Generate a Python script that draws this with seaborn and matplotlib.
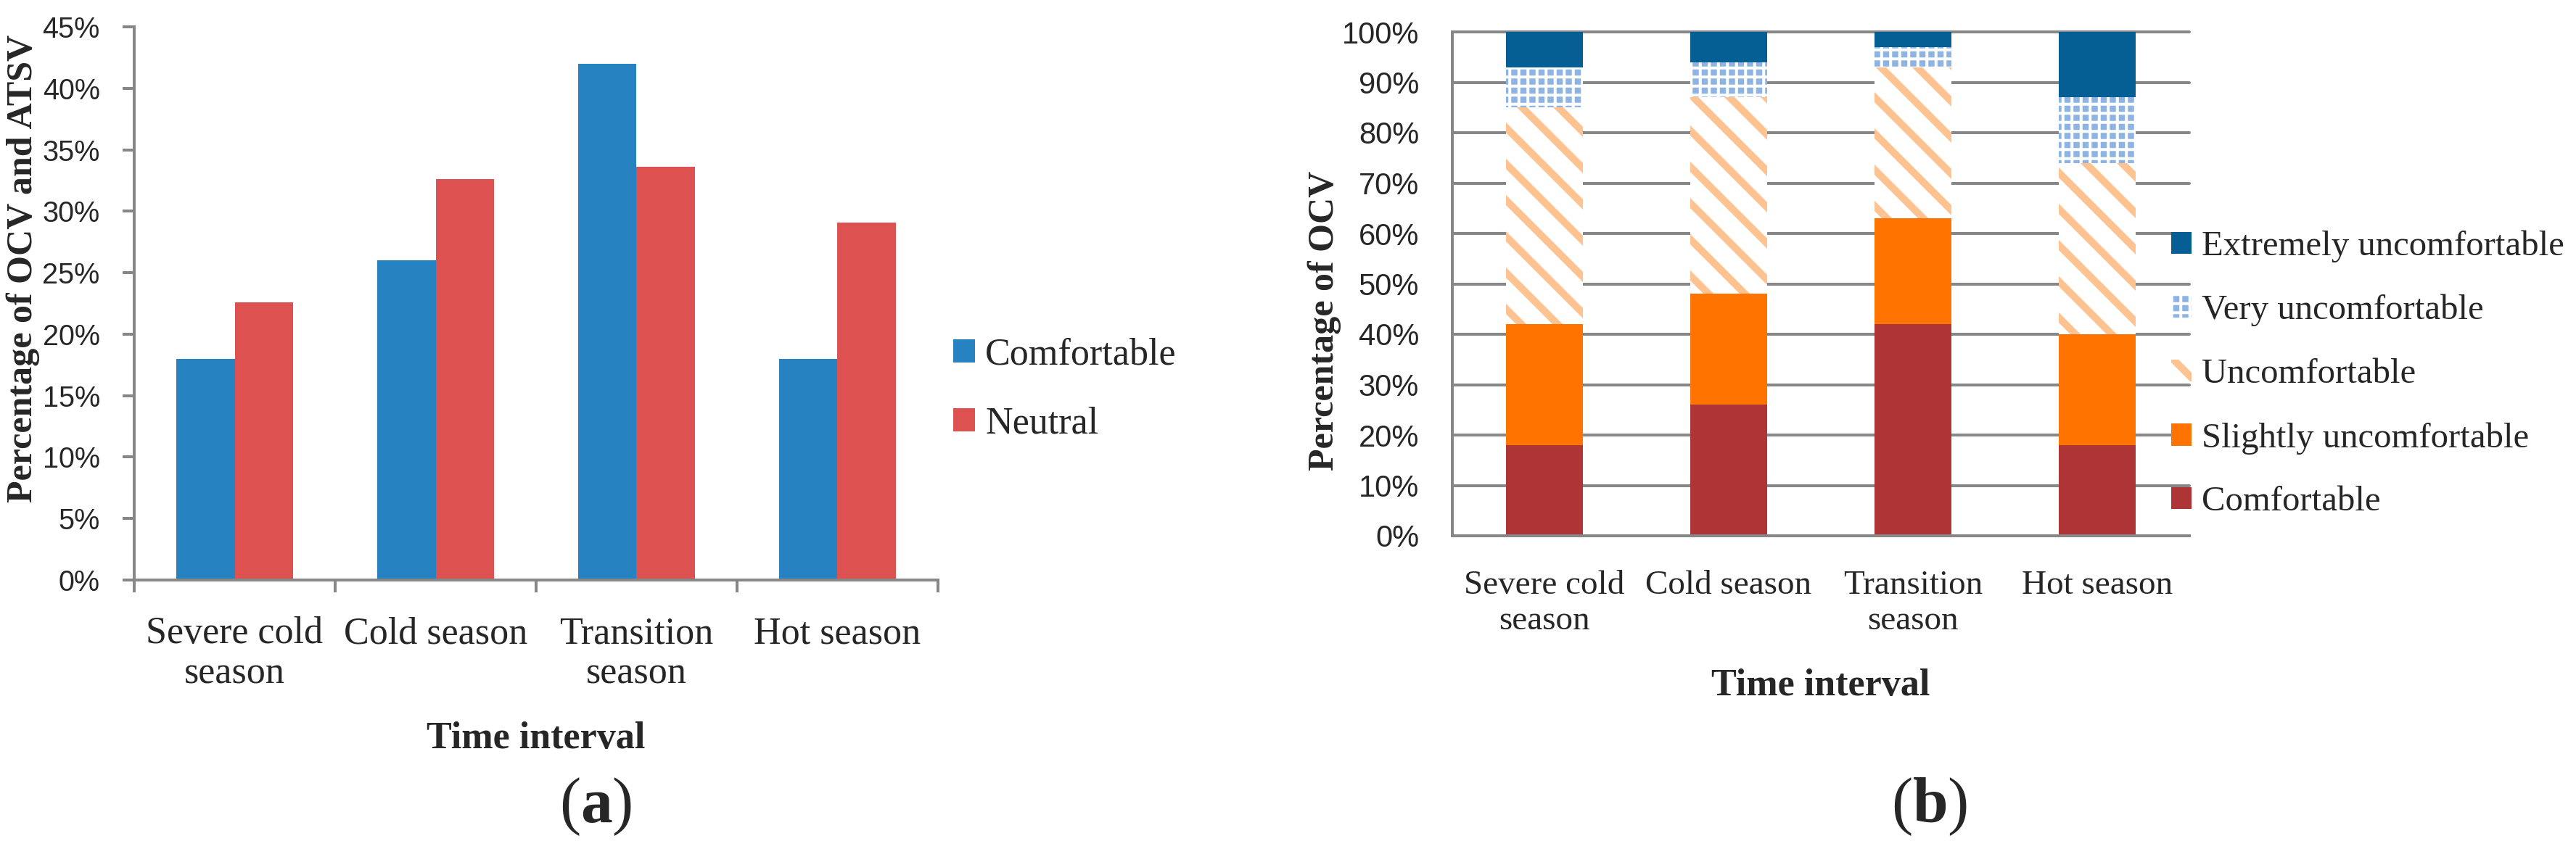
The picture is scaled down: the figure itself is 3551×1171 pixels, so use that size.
import matplotlib
matplotlib.use("Agg")
import matplotlib.pyplot as plt
import seaborn as sns
import pandas as pd
from matplotlib.patches import Patch
from matplotlib.ticker import FixedLocator, PercentFormatter

seasons = ["Severe cold\nseason", "Cold season", "Transition\nseason", "Hot season"]

# (a) share of comfortable OCV and neutral ATSV votes, %
ocv_comfortable = [18.0, 26.0, 42.0, 18.0]
atsv_neutral = [22.6, 32.6, 33.6, 29.1]

# (b) OCV split per season, %, listed bottom to top of the stack
comfortable = [18, 26, 42, 18]
slightly = [24, 22, 21, 22]
uncomfortable = [43, 39, 30, 34]
very = [8, 7, 4, 13]
extremely = [7, 6, 3, 13]

GREY = "#878787"
DPI = 300
PX = 72 / DPI  # points per pixel

sns.set_theme(style="white")
plt.rcParams["font.family"] = ["Liberation Serif", "DejaVu Serif"]
plt.rcParams["mathtext.fontset"] = "custom"
plt.rcParams["mathtext.rm"] = "Liberation Serif"
plt.rcParams["mathtext.bf"] = "Liberation Serif:bold"
plt.rcParams["hatch.linewidth"] = 10 * PX

W, H = 3551, 1171
fig = plt.figure(figsize=(W / DPI, H / DPI), dpi=DPI)
fig.patch.set_facecolor("white")


def box(x0, x1, ytop, ybot):
    return [x0 / W, 1 - ybot / H, (x1 - x0) / W, (ybot - ytop) / H]


def thin_checks(patches):
    # thinner white lines for the checked pattern
    for p in patches:
        if p.get_hatch() == "++++" and hasattr(p, "set_hatch_linewidth"):
            p.set_hatch_linewidth(4 * PX)


# ---------- (a) grouped bars ----------
ax_a = fig.add_axes(box(185, 1293, 37, 800))
df_a = pd.DataFrame({
    "season": seasons * 2,
    "vote": ["Comfortable"] * 4 + ["Neutral"] * 4,
    "pct": ocv_comfortable + atsv_neutral,
})
colors_a = {"Comfortable": "#2682C1", "Neutral": "#DE5151"}
sns.barplot(data=df_a, x="season", y="pct", hue="vote", palette=colors_a,
            width=0.578, saturation=1, errorbar=None, linewidth=0,
            legend=False, ax=ax_a)
ax_a.set_xlim(-0.5, 3.5)
ax_a.set_ylim(0, 45)
ax_a.yaxis.set_major_locator(FixedLocator(range(0, 46, 5)))
ax_a.yaxis.set_major_formatter(PercentFormatter(decimals=0))
ax_a.xaxis.set_minor_locator(FixedLocator([-0.5, 0.5, 1.5, 2.5, 3.5]))
ax_a.set_xlabel("")
ax_a.set_ylabel("")
for side in ["top", "right"]:
    ax_a.spines[side].set_visible(False)
for side in ["left", "bottom"]:
    ax_a.spines[side].set_color(GREY)
    ax_a.spines[side].set_linewidth(4 * PX)
ax_a.tick_params(axis="y", which="major", direction="out", length=16 * PX,
                 width=4 * PX, color=GREY, pad=7.5, labelsize=9.5,
                 labelfontfamily="Liberation Sans", left=True)
ax_a.tick_params(axis="x", which="major", length=0, pad=12,
                 labelsize=12.5, bottom=True)
ax_a.tick_params(axis="x", which="minor", direction="out", length=17 * PX,
                 width=4 * PX, color=GREY, bottom=True)

handles_a = [Patch(facecolor=colors_a[k], linewidth=0) for k in colors_a]
fig.legend(handles_a, list(colors_a), loc="center left",
           bbox_to_anchor=(1314 / W, 1 - 537 / H), frameon=False,
           fontsize=12.5, borderpad=0, borderaxespad=0,
           handlelength=0.58, handleheight=0.58, handletextpad=0.27,
           labelspacing=0.9)

fig.text(739 / W, 1 - 1032 / H, "Time interval", ha="center", va="baseline",
         fontsize=12.5, fontweight="bold")
fig.text(32 / W, 1 - 370 / H, "Percentage of OCV and ATSV", rotation=90,
         ha="center", va="center", fontsize=12, fontweight="bold")
fig.text(821 / W, 1 - 1113 / H, r"($\mathbf{a}$)", ha="center", va="center",
         fontsize=21)

# ---------- (b) stacked bars ----------
ax_b = fig.add_axes(box(2002, 3018, 44, 739))
ax_b.set_axisbelow(True)

layers = [
    ("Comfortable", comfortable, dict(color="#AE3435")),
    ("Slightly uncomfortable", slightly, dict(color="#FF7300")),
    ("Uncomfortable", uncomfortable,
     dict(color="white", edgecolor="#FFC392", hatch="\\\\")),
    ("Very uncomfortable", very,
     dict(color="#8DB4E2", edgecolor="white", hatch="++++")),
    ("Extremely uncomfortable", extremely, dict(color="#065F94")),
]

# cumulative tops, then draw from the tallest down so each layer sits on top
tops = []
running = [0] * len(seasons)
for name, vals, style in layers:
    running = [r + v for r, v in zip(running, vals)]
    tops.append(running)

for (name, vals, style), top in reversed(list(zip(layers, tops))):
    kw = dict(style)
    kw.setdefault("edgecolor", kw["color"])
    sns.barplot(x=seasons, y=top, width=0.417, saturation=1, errorbar=None,
                linewidth=0, ax=ax_b, **kw)
thin_checks(ax_b.patches)

ax_b.set_xlim(-0.5, 3.5)
ax_b.set_ylim(0, 100)
ax_b.yaxis.set_major_locator(FixedLocator(range(0, 101, 10)))
ax_b.yaxis.set_major_formatter(PercentFormatter(decimals=0))
ax_b.grid(axis="y", color=GREY, linewidth=4 * PX)
for gl in ax_b.get_ygridlines():
    gl.set_clip_on(False)
ax_b.set_xlabel("")
ax_b.set_ylabel("")
for side in ["top", "right"]:
    ax_b.spines[side].set_visible(False)
for side in ["left", "bottom"]:
    ax_b.spines[side].set_color(GREY)
    ax_b.spines[side].set_linewidth(4 * PX)
ax_b.tick_params(axis="y", length=0, pad=11, labelsize=10,
                 labelfontfamily="Liberation Sans")
ax_b.tick_params(axis="x", length=0, pad=11.5, labelsize=11.3)

handles_b = []
for name, vals, style in reversed(layers):
    handles_b.append(Patch(facecolor=style["color"],
                           edgecolor=style.get("edgecolor", style["color"]),
                           hatch=style.get("hatch"), linewidth=0))
leg_b = fig.legend(handles_b, [l[0] for l in reversed(layers)],
                   loc="center left", bbox_to_anchor=(2993 / W, 1 - 516 / H),
                   frameon=False, fontsize=11.7, borderpad=0, borderaxespad=0,
                   handlelength=0.58, handleheight=0.58, handletextpad=0.29,
                   labelspacing=0.9)
thin_checks(leg_b.get_patches())

fig.text(2510 / W, 1 - 959 / H, "Time interval", ha="center", va="baseline",
         fontsize=12.5, fontweight="bold")
fig.text(1826 / W, 1 - 442 / H, "Percentage of OCV", rotation=90,
         ha="center", va="center", fontsize=12, fontweight="bold")
fig.text(2660 / W, 1 - 1113 / H, r"($\mathbf{b}$)", ha="center", va="center",
         fontsize=21)

fig.savefig("out.png", dpi=DPI, facecolor="white")
